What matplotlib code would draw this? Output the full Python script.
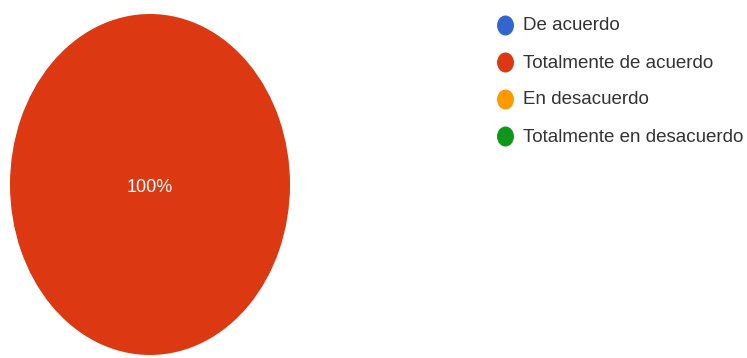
import matplotlib
matplotlib.use("Agg")
import matplotlib.pyplot as plt
from matplotlib.markers import MarkerStyle
from matplotlib.transforms import Affine2D

categories = ["De acuerdo", "Totalmente de acuerdo", "En desacuerdo", "Totalmente en desacuerdo"]
responses = [0, 100, 0, 0]
colors = ["#3366cc", "#dc3912", "#ff9900", "#109618"]

W, H = 747, 358
fig = plt.figure(figsize=(W / 100, H / 100), dpi=100)
fig.patch.set_facecolor("white")

# pie (slightly stretched vertically)
ax = fig.add_axes([10 / W, 3 / H, 280 / W, 341 / H])
ax.pie(responses, colors=colors, startangle=90, counterclock=False,
       wedgeprops=dict(linewidth=0))
ax.set_aspect("auto")
ax.set_xlim(-1, 1)
ax.set_ylim(-1, 1)
ax.axis("off")

total = sum(responses)
for val in responses:
    if val / total >= 0.999:
        ax.text(0, -0.02, f"{val / total * 100:.0f}%", color="white",
                ha="center", va="center", fontsize=13, family="Liberation Sans")

# legend drawn in pixel coordinates
leg = fig.add_axes([0, 0, 1, 1], facecolor="none")
leg.set_xlim(0, W)
leg.set_ylim(H, 0)
leg.axis("off")
dot = MarkerStyle("o", transform=Affine2D().scale(1, 1.18))
for i, (cat, col) in enumerate(zip(categories, colors)):
    y = 25 + i * 37
    leg.plot([505], [y], marker=dot, markersize=12.2, color=col,
             markeredgewidth=0, linestyle="none")
    leg.text(523, y + 1, cat, ha="left", va="center", fontsize=13.5,
             family="Liberation Sans", color="#333333")

fig.savefig("out.png", dpi=100)
